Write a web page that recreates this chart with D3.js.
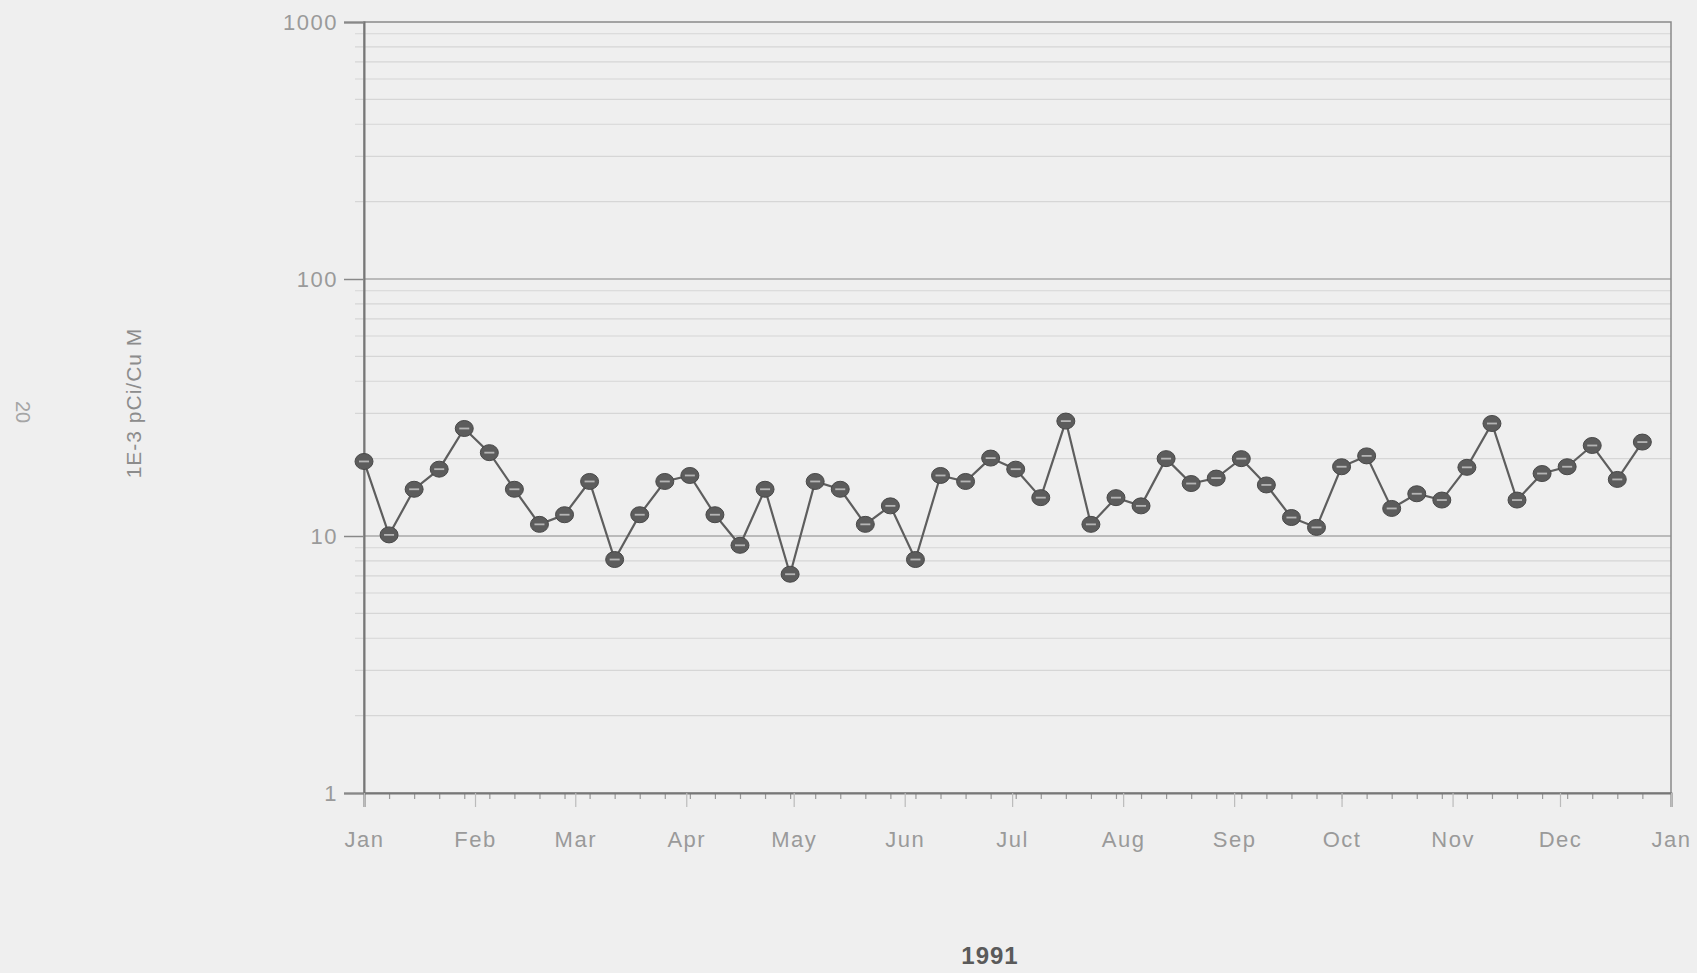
<!DOCTYPE html>
<html>
<head>
<meta charset="utf-8">
<script src="https://cdn.jsdelivr.net/npm/d3@7"></script>
<style>
  body { margin: 0; background: #efefef; }
  text { font-family: "Liberation Sans", Arial, sans-serif; }
</style>
</head>
<body>
<div id="chart"></div>
<script>
// weekly samples, 1991
const sampleDates = [
  "1991-01-01", "1991-01-08", "1991-01-15", "1991-01-22", "1991-01-29",
  "1991-02-05", "1991-02-12", "1991-02-19", "1991-02-26",
  "1991-03-05", "1991-03-12", "1991-03-19", "1991-03-26",
  "1991-04-02", "1991-04-09", "1991-04-16", "1991-04-23", "1991-04-30",
  "1991-05-07", "1991-05-14", "1991-05-21", "1991-05-28",
  "1991-06-04", "1991-06-11", "1991-06-18", "1991-06-25",
  "1991-07-02", "1991-07-09", "1991-07-16", "1991-07-23", "1991-07-30",
  "1991-08-06", "1991-08-13", "1991-08-20", "1991-08-27",
  "1991-09-03", "1991-09-10", "1991-09-17", "1991-09-24",
  "1991-10-01", "1991-10-08", "1991-10-15", "1991-10-22", "1991-10-29",
  "1991-11-05", "1991-11-12", "1991-11-19", "1991-11-26",
  "1991-12-03", "1991-12-10", "1991-12-17", "1991-12-24"
];
const sampleValues = [
  19.5, 10.1, 15.2, 18.2, 26.2, 21.1, 15.2, 11.1, 12.1, 16.3,
  8.1, 12.1, 16.3, 17.2, 12.1, 9.2, 15.2, 7.1, 16.3, 15.2,
  11.1, 13.1, 8.1, 17.2, 16.3, 20.1, 18.2, 14.1, 28.0, 11.1,
  14.1, 13.1, 20.0, 16.0, 16.8, 20.0, 15.8, 11.8, 10.8, 18.6,
  20.5, 12.8, 14.6, 13.8, 18.5, 27.4, 13.8, 17.5, 18.6, 22.5,
  16.6, 23.2
];
const monthLabels = ["Jan", "Feb", "Mar", "Apr", "May", "Jun", "Jul", "Aug", "Sep", "Oct", "Nov", "Dec", "Jan"];
const yTicks = [1, 10, 100, 1000];
const yLabel = "1E-3 pCi/Cu M";
const xLabel = "1991";

const parseDate = d3.timeParse("%Y-%m-%d");
const data = sampleDates.map(function(d, i) {
  return { date: parseDate(d), value: sampleValues[i] };
});

var width = 1697;
var height = 973;
var margin = { top: 22, right: 26, bottom: 180, left: 364 };

var svg = d3
  .select("#chart")
  .append("svg")
  .attr("width", width)
  .attr("height", height);

svg.append("rect").attr("width", width).attr("height", height).style("fill", "#efefef");

var x = d3
  .scaleTime()
  .domain([new Date(1991, 0, 1), new Date(1992, 0, 1)])
  .range([margin.left, width - margin.right]);

var y = d3
  .scaleLog()
  .domain([1, 1000])
  .range([height - margin.bottom, margin.top]);

// minor gridlines 2..9 in every decade
var minor = y.ticks().filter(function(d) {
  return yTicks.indexOf(d) < 0;
});

svg
  .append("g")
  .selectAll("line")
  .data(minor)
  .enter()
  .append("line")
  .attr("x1", margin.left - 9)
  .attr("x2", width - margin.right)
  .attr("y1", function(d) { return y(d); })
  .attr("y2", function(d) { return y(d); })
  .style("stroke", "#d6d6d6")
  .style("stroke-width", 1.2);

svg
  .append("g")
  .selectAll("line")
  .data(yTicks.slice(1, 3))
  .enter()
  .append("line")
  .attr("x1", margin.left)
  .attr("x2", width - margin.right)
  .attr("y1", function(d) { return y(d); })
  .attr("y2", function(d) { return y(d); })
  .style("stroke", "#a9a9a9")
  .style("stroke-width", 1.5);

// frame
svg
  .append("rect")
  .attr("x", margin.left)
  .attr("y", margin.top)
  .attr("width", width - margin.right - margin.left)
  .attr("height", height - margin.bottom - margin.top)
  .style("fill", "none")
  .style("stroke", "#8a8a8a")
  .style("stroke-width", 1.5);

// y axis
var yAxis = svg
  .append("g")
  .attr("transform", "translate(" + margin.left + ",0)")
  .call(d3.axisLeft(y).tickValues(yTicks).tickFormat(d3.format("d")).tickSize(20).tickPadding(6));
yAxis.select(".domain").style("stroke", "#777").style("stroke-width", 2);
yAxis.selectAll(".tick line").style("stroke", "#888").style("stroke-width", 1.5);
yAxis
  .selectAll("text")
  .style("font-size", "22px")
  .style("letter-spacing", "1.5px")
  .style("fill", "#9a9a9a");

// minor ticks along the x axis, one per sample week
var xMinor = svg
  .append("g")
  .attr("transform", "translate(0," + (height - margin.bottom) + ")")
  .call(d3.axisBottom(x).tickValues(data.map(function(d) { return d.date; })).tickSize(6).tickFormat(""));
xMinor.select(".domain").remove();
xMinor.selectAll(".tick line").style("stroke", "#999").style("stroke-width", 1.2);

var xAxis = svg
  .append("g")
  .attr("transform", "translate(0," + (height - margin.bottom) + ")")
  .call(
    d3
      .axisBottom(x)
      .ticks(d3.timeMonth.every(1))
      .tickSize(14)
      .tickPadding(24)
      .tickFormat(function(d, i) { return monthLabels[i]; })
  );
xAxis.select(".domain").style("stroke", "#777").style("stroke-width", 2);
xAxis.selectAll(".tick line").style("stroke", "#bbb").style("stroke-width", 1.2);
xAxis
  .selectAll("text")
  .style("font-size", "22px")
  .style("letter-spacing", "1.5px")
  .style("fill", "#9a9a9a");

// series line
var line = d3
  .line()
  .x(function(d) { return x(d.date); })
  .y(function(d) { return y(d.value); });

svg
  .append("path")
  .datum(data)
  .attr("d", line)
  .style("fill", "none")
  .style("stroke", "#5e5e5e")
  .style("stroke-width", 2.2);

var marks = svg
  .append("g")
  .selectAll("g")
  .data(data)
  .enter()
  .append("g")
  .attr("transform", function(d) {
    return "translate(" + x(d.date) + "," + y(d.value) + ")";
  });

marks
  .append("ellipse")
  .attr("rx", 9)
  .attr("ry", 8)
  .style("fill", "#5c5c5c")
  .style("stroke", "#484848")
  .style("stroke-width", 1);

marks
  .append("line")
  .attr("x1", -5)
  .attr("x2", 5)
  .style("stroke", "#b5b5b5")
  .style("stroke-width", 1.8);

// titles
svg
  .append("text")
  .attr("transform", "translate(141,403) rotate(-90)")
  .attr("text-anchor", "middle")
  .style("font-size", "21px")
  .style("letter-spacing", "1px")
  .style("fill", "#8c8c8c")
  .text(yLabel);

svg
  .append("text")
  .attr("transform", "translate(16,412) rotate(90)")
  .attr("text-anchor", "middle")
  .style("font-size", "20px")
  .style("fill", "#a5a5a5")
  .text("20");

svg
  .append("text")
  .attr("x", 990)
  .attr("y", 964)
  .attr("text-anchor", "middle")
  .style("font-size", "24px")
  .style("font-weight", "bold")
  .style("letter-spacing", "1px")
  .style("fill", "#5a5a5a")
  .text(xLabel);
</script>
</body>
</html>
